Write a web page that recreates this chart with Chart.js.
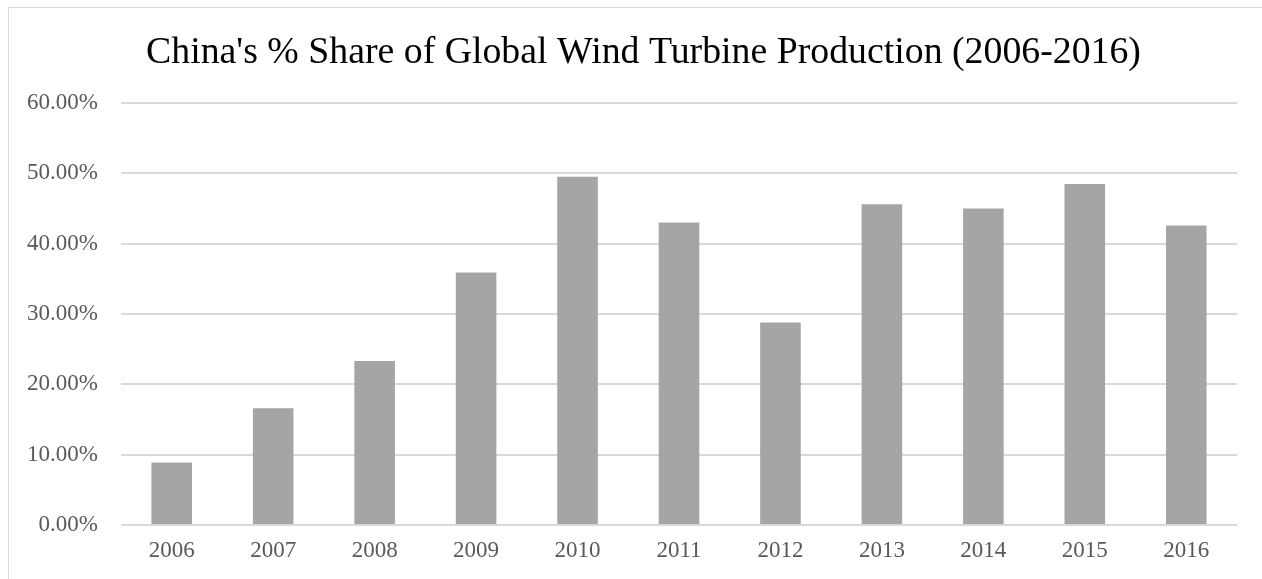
<!DOCTYPE html>
<html>
<head>
<meta charset="utf-8">
<script src="https://cdn.jsdelivr.net/npm/chart.js@4.4.0/dist/chart.umd.min.js"></script>
<style>
  html, body { margin: 0; padding: 0; background: #fff; overflow: hidden; }
  #frame { position: absolute; left: 8px; top: 7px; width: 1300px; height: 620px;
           border-left: 1px solid #d9d9d9; border-top: 1px solid #d9d9d9; }
  #box { position: absolute; left: 0; top: 0; width: 1262px; height: 579px; }
</style>
</head>
<body>
<div id="frame"></div>
<div id="box"><canvas id="myChart"></canvas></div>
<script>
// x-axis labels
var years = ['2006','2007','2008','2009','2010','2011','2012','2013','2014','2015','2016'];
// China share (%)
var chinaShare = [8.9, 16.6, 23.3, 35.9, 49.5, 43.0, 28.8, 45.6, 45.0, 48.5, 42.6];
// y-axis range
var yMin = 0;
var yMax = 60;
var yStep = 10;

var titleText = "China's % Share of Global Wind Turbine Production (2006-2016)";
var serif = "'Liberation Serif', 'Times New Roman', serif";

// title drawn by hand, it sits a bit right of the canvas centre
var titlePlugin = {
  id: 'offsetTitle',
  afterDraw: function(chart) {
    var c = chart.ctx;
    c.save();
    c.font = '37.8px ' + serif;
    c.fillStyle = '#000';
    c.textAlign = 'center';
    c.textBaseline = 'alphabetic';
    c.fillText(titleText, 643.5, 63);
    c.restore();
  }
};

var ctx = document.getElementById("myChart");
var myChart = new Chart(ctx, {
  type: 'bar',
  data: {
    labels: years,
    datasets: [
      {
        data: chinaShare,
        label: "China",
        backgroundColor: "#a5a5a5",
        borderWidth: 0,
        barPercentage: 0.4,
        categoryPercentage: 1.0
      }
    ]
  },
  options: {
    responsive: true,
    maintainAspectRatio: false,
    animation: false,
    layout: { padding: { left: 0, right: 25, top: 103, bottom: 0 } },
    plugins: {
      legend: { display: false },
      tooltip: { enabled: false },
      title: { display: false }
    },
    scales: {
      x: {
        grid: { display: false },
        border: { display: false },
        ticks: {
          color: '#595959',
          font: { family: serif, size: 23 },
          padding: 4,
          maxRotation: 0
        },
        afterFit: function(scale) { scale.height = 54; }
      },
      y: {
        min: yMin,
        max: yMax,
        grid: { color: '#d9d9d9', lineWidth: 2, drawTicks: false },
        border: { display: false },
        ticks: {
          stepSize: yStep,
          color: '#595959',
          font: { family: serif, size: 23 },
          padding: 23,
          callback: function(v) { return v.toFixed(2) + '%'; }
        },
        afterFit: function(scale) { scale.width = 121; }
      }
    }
  },
  plugins: [titlePlugin]
});
</script>
</body>
</html>
